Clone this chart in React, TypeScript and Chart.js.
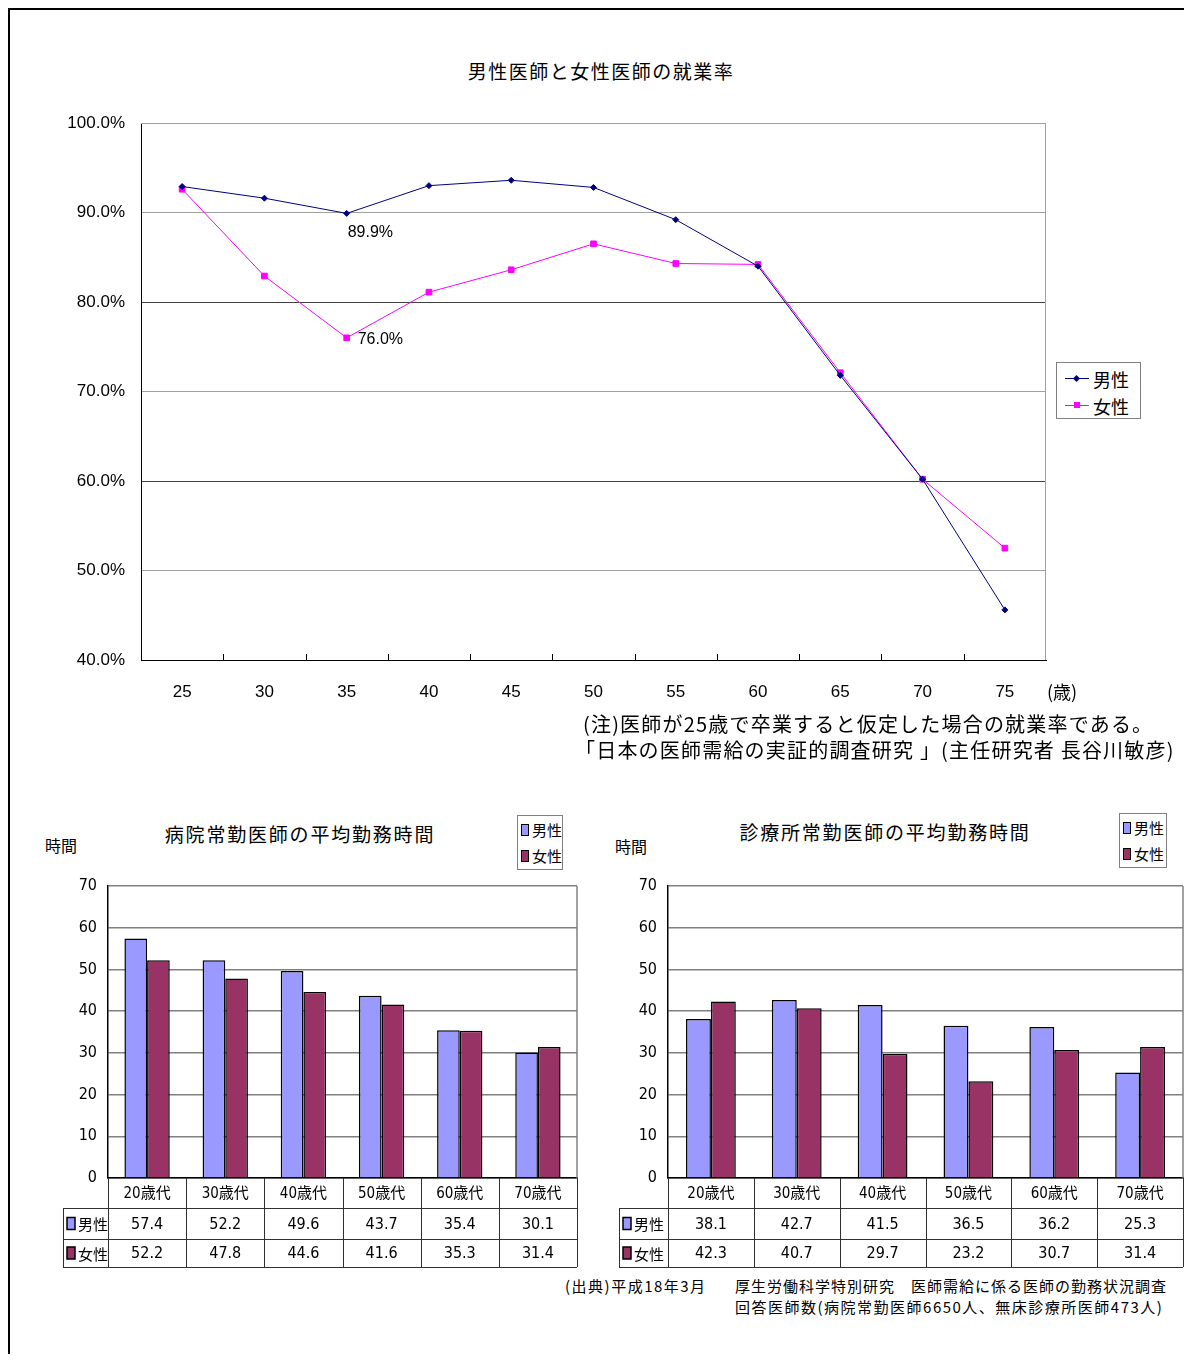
import React, { useEffect, useRef } from "react";
import { Chart, registerables } from "chart.js";

Chart.register(...registerables);

// ---------- data ----------
const AGE_LABELS = ["25", "30", "35", "40", "45", "50", "55", "60", "65", "70", "75"];
const MALE_EMPLOYMENT = [92.9, 91.6, 89.9, 93.0, 93.6, 92.8, 89.2, 84.0, 71.8, 60.2, 45.6];
const FEMALE_EMPLOYMENT = [92.6, 82.9, 76.0, 81.1, 83.6, 86.5, 84.3, 84.2, 72.1, 60.2, 52.5];
const ANNOTATED_INDEX = 2; // age 35

const SERIES_NAMES = ["男性", "女性"];
const DECADE_LABELS = ["20歳代", "30歳代", "40歳代", "50歳代", "60歳代", "70歳代"];
const HOSPITAL_MALE = [57.4, 52.2, 49.6, 43.7, 35.4, 30.1];
const HOSPITAL_FEMALE = [52.2, 47.8, 44.6, 41.6, 35.3, 31.4];
const CLINIC_MALE = [38.1, 42.7, 41.5, 36.5, 36.2, 25.3];
const CLINIC_FEMALE = [42.3, 40.7, 29.7, 23.2, 30.7, 31.4];

// ---------- styles ----------
const LATIN = '"Liberation Sans", Arial, "Noto Sans CJK JP", sans-serif';
const NARROW = '"Liberation Sans Narrow", "DejaVu Sans Condensed", "Noto Sans CJK JP", sans-serif';
const JP = '"Noto Sans CJK JP", "Liberation Sans", sans-serif';
const NAVY = "#000080";
const MAGENTA = "#FF00FF";
const MALE_BAR = "#9999FF";
const FEMALE_BAR = "#993366";

// page coordinates -> container coordinates (body margin 8 + border 2)
const OX = 10;
const OY = 10;

const zeroPadding = (s: any) => {
  s.paddingTop = 0;
  s.paddingBottom = 0;
  s.paddingLeft = 0;
  s.paddingRight = 0;
};

type TextProps = {
  x: number;
  y: number;
  size: number;
  text: string;
  family?: string;
  spacing?: number;
  center?: boolean;
};

function Txt({ x, y, size, text, family = JP, spacing = 0, center = false }: TextProps) {
  const style: React.CSSProperties = {
    position: "absolute",
    top: y - OY - size / 2 - 1,
    lineHeight: `${size + 2}px`,
    fontSize: size,
    fontFamily: family,
    letterSpacing: spacing,
    whiteSpace: "nowrap",
    color: "#000",
  };
  if (center) {
    style.left = x - OX - 400;
    style.width = 800;
    style.textAlign = "center";
  } else {
    style.left = x - OX;
  }
  return <div style={style}>{text}</div>;
}

function RateChart() {
  const ref = useRef<HTMLCanvasElement>(null);
  useEffect(() => {
    const decorations = {
      id: "rateDecor",
      afterDraw(chart: any) {
        const { ctx, chartArea: a, scales } = chart;
        const x = scales.x;
        const n = chart.data.labels.length;
        const half = (x.getPixelForTick(1) - x.getPixelForTick(0)) / 2;
        ctx.save();
        ctx.strokeStyle = "#a0a0a0";
        ctx.lineWidth = 1;
        ctx.beginPath();
        ctx.moveTo(a.left, a.top + 0.5);
        ctx.lineTo(a.right - 0.5, a.top + 0.5);
        ctx.lineTo(a.right - 0.5, a.bottom);
        ctx.stroke();
        ctx.strokeStyle = "#000";
        for (let i = 1; i < n; i++) {
          const px = Math.round(x.getPixelForTick(i) - half) + 0.5;
          ctx.beginPath();
          ctx.moveTo(px, a.bottom);
          ctx.lineTo(px, a.bottom - 6);
          ctx.stroke();
        }
        ctx.restore();
      },
      afterDatasetsDraw(chart: any) {
        const { ctx } = chart;
        const pm = chart.getDatasetMeta(0).data[ANNOTATED_INDEX];
        const pf = chart.getDatasetMeta(1).data[ANNOTATED_INDEX];
        const vm = chart.data.datasets[0].data[ANNOTATED_INDEX];
        const vf = chart.data.datasets[1].data[ANNOTATED_INDEX];
        ctx.save();
        ctx.fillStyle = "#000";
        ctx.font = `16px ${LATIN}`;
        ctx.textAlign = "left";
        ctx.textBaseline = "middle";
        ctx.fillText(`${vm.toFixed(1)}%`, pm.x + 1, pm.y + 19);
        ctx.fillText(`${vf.toFixed(1)}%`, pf.x + 11, pf.y + 2);
        ctx.restore();
      },
    };

    const chart = new Chart(ref.current!, {
      type: "line",
      data: {
        labels: AGE_LABELS,
        datasets: [
          {
            label: SERIES_NAMES[0],
            data: MALE_EMPLOYMENT,
            borderColor: NAVY,
            backgroundColor: NAVY,
            borderWidth: 1,
            pointStyle: "rectRot",
            pointRadius: 3,
            pointBorderWidth: 1,
            tension: 0,
          },
          {
            label: SERIES_NAMES[1],
            data: FEMALE_EMPLOYMENT,
            borderColor: MAGENTA,
            backgroundColor: MAGENTA,
            borderWidth: 1,
            pointStyle: "rect",
            pointRadius: 4,
            pointBorderWidth: 1,
            tension: 0,
          },
        ],
      },
      options: {
        animation: false,
        responsive: false,
        layout: { padding: { top: 23, right: 14, left: 0, bottom: 0 } },
        plugins: { legend: { display: false }, tooltip: { enabled: false } },
        scales: {
          x: {
            type: "category",
            offset: true,
            grid: { display: false, drawTicks: false },
            border: { display: true, color: "#000", width: 1 },
            ticks: { padding: 22, color: "#000", font: { family: LATIN, size: 17 }, maxRotation: 0 },
            afterFit(s: any) {
              s.height = 60;
              zeroPadding(s);
            },
          },
          y: {
            min: 40,
            max: 100,
            ticks: {
              stepSize: 10,
              padding: 16,
              color: "#000",
              font: { family: LATIN, size: 17 },
              callback: (v: any) => `${Number(v).toFixed(1)}%`,
            },
            grid: {
              drawTicks: false,
              lineWidth: 1,
              color: (c: any) =>
                c.tick && (c.tick.value === 80 || c.tick.value === 60) ? "#404040" : "#a0a0a0",
            },
            border: { display: true, color: "#000", width: 1 },
            afterFit(s: any) {
              s.width = 101;
              zeroPadding(s);
            },
          },
        },
      },
      plugins: [decorations],
    } as any);
    return () => chart.destroy();
  }, []);
  return (
    <canvas
      ref={ref}
      width={1020}
      height={620}
      style={{ position: "absolute", left: 40 - OX, top: 100 - OY, width: 1020, height: 620 }}
    />
  );
}

type HoursProps = {
  male: number[];
  female: number[];
  left: number;
  width: number;
  padRight: number;
  headerW: number;
};

function HoursChart({ male, female, left, width, padRight, headerW }: HoursProps) {
  const ref = useRef<HTMLCanvasElement>(null);
  useEffect(() => {
    const table = {
      id: "dataTable",
      afterDraw(chart: any) {
        const { ctx, chartArea: a, scales } = chart;
        const x = scales.x;
        const n = chart.data.labels.length;
        const half = (x.getPixelForTick(1) - x.getPixelForTick(0)) / 2;
        const y0 = a.bottom;
        const y1 = y0 + 30;
        const y2 = y0 + 61;
        const y3 = y0 + 89;
        const hl = a.left - headerW;
        const line = (x1: number, yA: number, x2: number, yB: number) => {
          ctx.beginPath();
          ctx.moveTo(x1, yA);
          ctx.lineTo(x2, yB);
          ctx.stroke();
        };
        ctx.save();
        ctx.strokeStyle = "#808080";
        ctx.lineWidth = 1.5;
        line(a.right, a.top, a.right, a.bottom);
        ctx.strokeStyle = "#303030";
        ctx.lineWidth = 1;
        for (let i = 0; i <= n; i++) {
          const px =
            Math.round(i < n ? x.getPixelForTick(i) - half : x.getPixelForTick(n - 1) + half) + 0.5;
          line(px, y0, px, y3);
        }
        for (const yy of [y1, y2, y3]) line(hl, yy + 0.5, a.right, yy + 0.5);
        line(hl + 0.5, y1, hl + 0.5, y3);

        ctx.fillStyle = "#000";
        ctx.textAlign = "center";
        ctx.textBaseline = "middle";
        ctx.font = `15px ${NARROW}`;
        for (let i = 0; i < n; i++) {
          ctx.fillText(String(chart.data.labels[i]), x.getPixelForTick(i), (y0 + y1) / 2 + 1);
        }
        ctx.font = `16px ${NARROW}`;
        const rows = [
          [y1, y2],
          [y2, y3],
        ];
        chart.data.datasets.forEach((ds: any, k: number) => {
          const cy = (rows[k][0] + rows[k][1]) / 2 + 1;
          for (let i = 0; i < n; i++) {
            ctx.fillText(Number(ds.data[i]).toFixed(1), x.getPixelForTick(i), cy);
          }
        });
        chart.data.datasets.forEach((ds: any, k: number) => {
          const cy = (rows[k][0] + rows[k][1]) / 2;
          ctx.fillStyle = ds.backgroundColor;
          ctx.fillRect(hl + 4, cy - 6, 8, 12);
          ctx.strokeStyle = "#000";
          ctx.lineWidth = 1.5;
          ctx.strokeRect(hl + 4, cy - 6, 8, 12);
          ctx.fillStyle = "#000";
          ctx.textAlign = "left";
          ctx.font = `15px ${JP}`;
          ctx.fillText(ds.label, hl + 15, cy + 1);
        });
        ctx.restore();
      },
    };

    const chart = new Chart(ref.current!, {
      type: "bar",
      data: {
        labels: DECADE_LABELS,
        datasets: [
          {
            label: SERIES_NAMES[0],
            data: male,
            backgroundColor: MALE_BAR,
            borderColor: "#000",
            borderWidth: 1.5,
            categoryPercentage: 0.58,
            barPercentage: 1,
          },
          {
            label: SERIES_NAMES[1],
            data: female,
            backgroundColor: FEMALE_BAR,
            borderColor: "#000",
            borderWidth: 1.5,
            categoryPercentage: 0.58,
            barPercentage: 1,
          },
        ],
      },
      options: {
        animation: false,
        responsive: false,
        layout: { padding: { top: 11, right: padRight, left: 0, bottom: 0 } },
        plugins: { legend: { display: false }, tooltip: { enabled: false } },
        scales: {
          x: {
            ticks: { display: false },
            grid: { display: false, drawTicks: false },
            border: { display: true, color: "#000", width: 1.5 },
            afterFit(s: any) {
              s.height = 97;
              zeroPadding(s);
            },
          },
          y: {
            min: 0,
            max: 70,
            ticks: { stepSize: 10, padding: 11, color: "#000", font: { family: NARROW, size: 16 } },
            grid: { color: "#808080", lineWidth: 1.5, drawTicks: false },
            border: { display: true, color: "#000", width: 1.5 },
            afterFit(s: any) {
              s.width = 68;
              zeroPadding(s);
            },
          },
        },
      },
      plugins: [table],
    } as any);
    return () => chart.destroy();
  }, [male, female, padRight, headerW]);
  return (
    <canvas
      ref={ref}
      width={width}
      height={400}
      style={{ position: "absolute", left: left - OX, top: 875 - OY, width, height: 400 }}
    />
  );
}

function BarLegend({ x, y, w, h }: { x: number; y: number; w: number; h: number }) {
  const items = [
    { name: SERIES_NAMES[0], color: MALE_BAR },
    { name: SERIES_NAMES[1], color: FEMALE_BAR },
  ];
  return (
    <div
      style={{
        position: "absolute",
        left: x - OX,
        top: y - OY,
        width: w,
        height: h,
        boxSizing: "border-box",
        border: "1px solid #808080",
        background: "#fff",
      }}
    >
      {items.map((it, i) => (
        <div
          key={it.name}
          style={{ position: "absolute", left: 3, top: 3 + i * 26, height: 22, display: "flex", alignItems: "center" }}
        >
          <div
            style={{
              width: 8,
              height: 12,
              boxSizing: "border-box",
              border: "1.5px solid #000",
              background: it.color,
              marginRight: 3,
            }}
          />
          <span style={{ fontFamily: JP, fontSize: 15, lineHeight: "22px", color: "#000" }}>{it.name}</span>
        </div>
      ))}
    </div>
  );
}

function LineLegend() {
  const items = [
    { name: SERIES_NAMES[0], color: NAVY, diamond: true },
    { name: SERIES_NAMES[1], color: MAGENTA, diamond: false },
  ];
  return (
    <div
      style={{
        position: "absolute",
        left: 1056 - OX,
        top: 362 - OY,
        width: 85,
        height: 57,
        boxSizing: "border-box",
        border: "1px solid #808080",
        background: "#fff",
      }}
    >
      {items.map((it, i) => (
        <div key={it.name} style={{ position: "absolute", left: 8, top: 4 + i * 27, height: 24, width: 75 }}>
          <div style={{ position: "absolute", left: 0, top: 11, width: 24, height: 1, background: it.color }} />
          <div
            style={{
              position: "absolute",
              left: 9,
              top: it.diamond ? 9 : 8,
              width: it.diamond ? 5 : 6,
              height: it.diamond ? 5 : 6,
              background: it.color,
              transform: it.diamond ? "rotate(45deg)" : "none",
            }}
          />
          <span
            style={{
              position: "absolute",
              left: 28,
              top: 0,
              fontFamily: JP,
              fontSize: 18,
              lineHeight: "24px",
              color: "#000",
              whiteSpace: "nowrap",
            }}
          >
            {it.name}
          </span>
        </div>
      ))}
    </div>
  );
}

export default function App() {
  return (
    <div
      style={{
        position: "relative",
        width: 1176,
        height: 1346,
        boxSizing: "border-box",
        borderLeft: "2px solid #000",
        borderTop: "2px solid #000",
        background: "#fff",
        overflow: "visible",
      }}
    >
      <Txt x={601} y={70} size={19} spacing={1.5} center text="男性医師と女性医師の就業率" />
      <RateChart />
      <LineLegend />
      <Txt x={1047} y={691} size={18} text="(歳)" />
      <Txt x={583} y={724} size={20} spacing={1.2} text="(注)医師が25歳で卒業すると仮定した場合の就業率である。" />
      <Txt x={575} y={750} size={20} spacing={1.2} text="「日本の医師需給の実証的調査研究 」(主任研究者 長谷川敏彦)" />

      <Txt x={45} y={845} size={16} text="時間" />
      <Txt x={300} y={833} size={19} spacing={1.8} center text="病院常勤医師の平均勤務時間" />
      <BarLegend x={517} y={815} w={46} h={55} />
      <HoursChart male={HOSPITAL_MALE} female={HOSPITAL_FEMALE} left={40} width={550} padRight={13} headerW={45} />

      <Txt x={615} y={846} size={16} text="時間" />
      <Txt x={885} y={831} size={19} spacing={1.8} center text="診療所常勤医師の平均勤務時間" />
      <BarLegend x={1119} y={813} w={48} h={55} />
      <HoursChart male={CLINIC_MALE} female={CLINIC_FEMALE} left={600} width={590} padRight={7} headerW={49} />

      <Txt x={565} y={1285} size={15} spacing={1.5} text="(出典)平成18年3月" />
      <Txt x={735} y={1285} size={15} spacing={1} text="厚生労働科学特別研究　医師需給に係る医師の勤務状況調査" />
      <Txt x={735} y={1306} size={15} spacing={1.5} text="回答医師数(病院常勤医師6650人、無床診療所医師473人)" />
    </div>
  );
}
